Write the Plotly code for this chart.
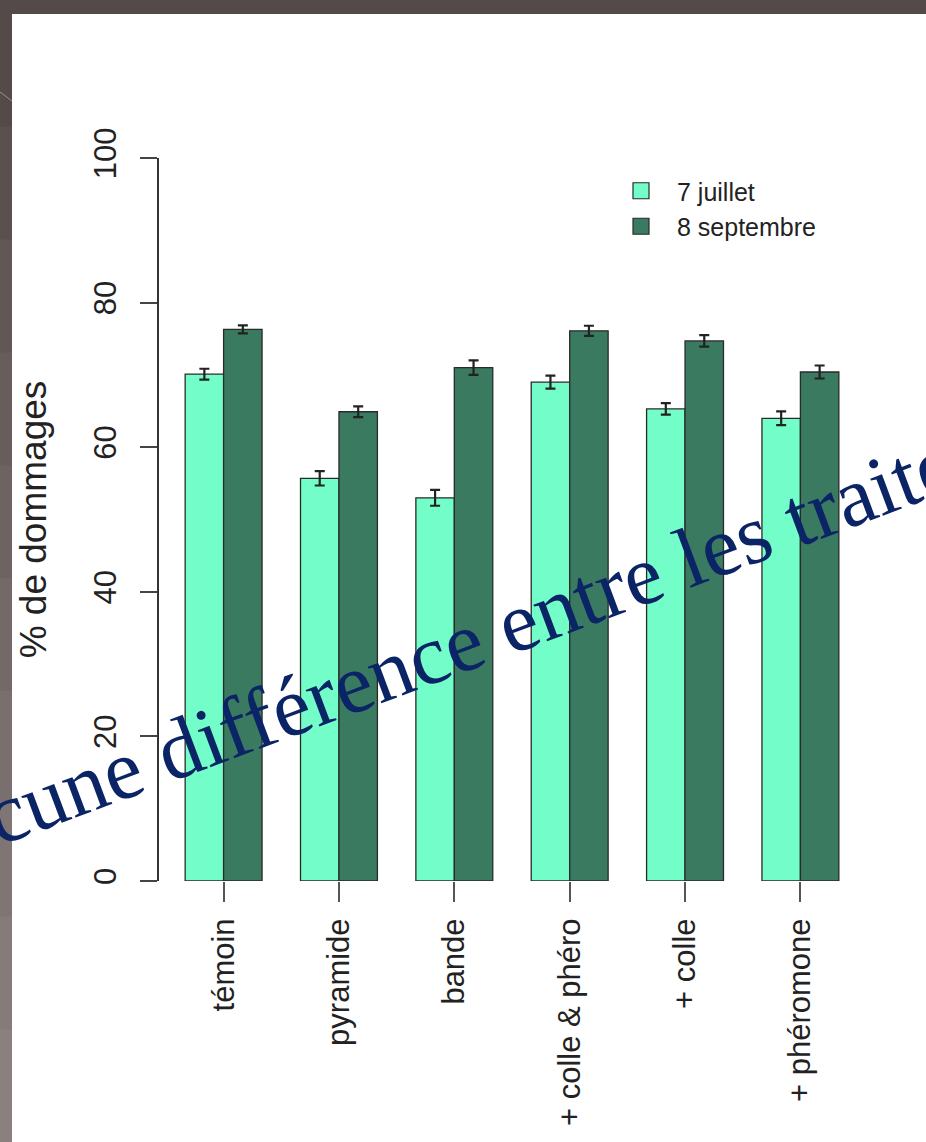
import plotly.graph_objects as go

# Treatments and damage percentages at the two sampling dates
treatments = ["témoin", "pyramide", "bande", "+ colle & phéro", "+ colle", "+ phéromone"]
juillet = [70.1, 55.7, 53.0, 69.0, 65.3, 64.0]
juillet_err = [0.75, 1.0, 1.1, 0.9, 0.8, 0.95]
septembre = [76.3, 64.9, 71.0, 76.1, 74.7, 70.4]
septembre_err = [0.55, 0.75, 1.0, 0.7, 0.8, 0.9]
series_names = ["7 juillet", "8 septembre"]
y_ticks = [0, 20, 40, 60, 80, 100]

W, H = 926, 1142
L, R, T, B = 159, 865, 158, 881  # plot area in pixels

LIGHT = "#73fec9"
DARK = "#3a7a61"
INK = "#222222"


def px_x(x):
    return (x - L) / (R - L)


def px_y(y):
    return (B - y) / (B - T)


fig = go.Figure()
for name, vals, errs, col in [
    (series_names[0], juillet, juillet_err, LIGHT),
    (series_names[1], septembre, septembre_err, DARK),
]:
    fig.add_trace(go.Bar(
        x=treatments, y=vals, name=name, showlegend=False,
        marker=dict(color=col, line=dict(color="#2a2a2a", width=1.3)),
        error_y=dict(type="data", array=errs, color=INK, thickness=2.2, width=5),
    ))
    # legend key drawn as a filled square
    fig.add_trace(go.Scatter(
        x=[None], y=[None], name=name, mode="markers",
        marker=dict(symbol="square", size=16, color=col,
                    line=dict(color="#2a2a2a", width=1.2)),
    ))

# slide frame: dark border strips and white panel
shapes = [
    dict(type="rect", xref="paper", yref="paper", layer="below",
         x0=px_x(0), x1=px_x(W), y0=px_y(H), y1=px_y(0),
         fillcolor="#544a4a", line=dict(width=0)),
    dict(type="rect", xref="paper", yref="paper", layer="below",
         x0=px_x(12), x1=px_x(W), y0=px_y(H), y1=px_y(14),
         fillcolor="white", line=dict(width=0)),
]
strip_cols = ["#544a4a", "#5a5050", "#615756", "#675d5c", "#6d6362",
              "#736968", "#796f6e", "#7f7574", "#857b7a", "#8a807f"]
n = len(strip_cols)
for i, c in enumerate(strip_cols):
    y0 = 14 + i * (H - 14) / n
    y1 = 14 + (i + 1) * (H - 14) / n + 1
    shapes.append(dict(type="rect", xref="paper", yref="paper", layer="below",
                       x0=px_x(0), x1=px_x(12), y0=px_y(y1), y1=px_y(y0),
                       fillcolor=c, line=dict(width=0)))
shapes.append(dict(type="line", xref="paper", yref="paper", layer="below",
                   x0=px_x(0), y0=px_y(92), x1=px_x(12), y1=px_y(101),
                   line=dict(color="#9a9090", width=1)))

fig.update_layout(
    width=W, height=H,
    margin=dict(l=L, r=W - R, t=T, b=H - B, pad=0),
    paper_bgcolor="#544a4a",
    plot_bgcolor="rgba(0,0,0,0)",
    barmode="group", bargap=1 / 3, bargroupgap=0,
    font=dict(family="Liberation Sans, Arial, sans-serif", color=INK),
    shapes=shapes,
    showlegend=True,
    legend=dict(
        x=px_x(605), y=px_y(168), xanchor="left", yanchor="top",
        font=dict(size=25, color=INK), itemwidth=62,
        bgcolor="rgba(0,0,0,0)", traceorder="normal",
    ),
    xaxis=dict(
        range=[-0.56, 5.56], showline=False, showgrid=False, zeroline=False,
        ticks="outside", ticklen=20, tickwidth=1.5, tickcolor="#555555",
        tickangle=-90, tickfont=dict(size=31, color=INK),
        ticklabelstandoff=4,
    ),
    yaxis=dict(
        range=[0, 100], tickvals=y_ticks, showgrid=False, zeroline=False,
        showline=True, linecolor="#333333", linewidth=1.5,
        ticks="outside", ticklen=17, tickwidth=1.5, tickcolor="#444444",
        tickangle=-90, tickfont=dict(size=31, color=INK),
        ticklabelstandoff=12,
        title=dict(text="% de dommages", font=dict(size=37, color=INK), standoff=30),
    ),
    annotations=[dict(
        text="Aucune différence entre les traitements",
        xref="paper", yref="paper", x=px_x(516), y=px_y(622),
        xanchor="center", yanchor="middle", showarrow=False, textangle=-20.5,
        font=dict(family="Liberation Serif, Times New Roman, serif", size=85, color="#0b2466"),
    )],
)

fig.write_html("out.html")
